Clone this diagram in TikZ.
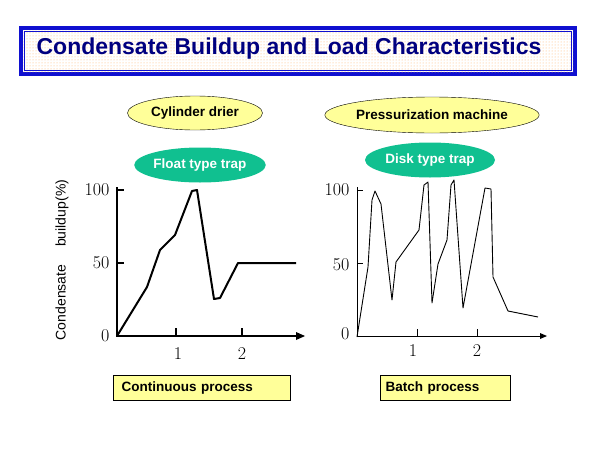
\documentclass[tikz,border=0pt]{standalone}
\usepackage{fontspec}
\setsansfont{Liberation Sans}
\usetikzlibrary{patterns,arrows.meta,shapes.geometric}
\definecolor{navy}{HTML}{000080}
\definecolor{tblue}{HTML}{1010D0}
\definecolor{yel}{HTML}{FFFF99}
\definecolor{teal2}{HTML}{10C090}
\tikzset{
  lblfont/.style={font=\sffamily\bfseries\fontsize{13.5}{15}\selectfont},
  yell/.style={ellipse,draw=black,fill=yel,lblfont,inner sep=0pt},
  tealell/.style={ellipse,fill=teal2,text=white,lblfont,inner sep=0pt},
  procbox/.style={draw=black,fill=yel,lblfont,anchor=north west,inner sep=0pt},
  axisline/.style={line width=1.8pt},
  numlab/.style={font=\fontsize{18}{20}\selectfont},
}
\begin{document}
\begin{tikzpicture}[x=1pt,y=-1pt]
\useasboundingbox (0,0) rectangle (600,450);
% title
\fill[tblue] (19,26) rectangle (577,76);
\fill[white] (23,30) rectangle (573,72);
\fill[pattern=dots,pattern color=orange!60] (23,30) rectangle (573,72);
\draw[tblue,line width=0.8pt] (24.5,31.5) rectangle (571.5,70.5);
\node[font=\sffamily\bfseries\fontsize{23}{26}\selectfont,text=navy] (title) at (289,49) {Condensate Buildup and Load Characteristics};
% ellipses
\node[yell,minimum width=135,minimum height=34] (cyl) at (195,113) {Cylinder drier};
\node[tealell,minimum width=130,minimum height=35] (flt) at (200,165) {Float type trap};
\node[yell,minimum width=182,minimum height=36] (pm) at (432,115) {Pressurization machine};
\node[tealell,minimum width=130,minimum height=35] (dsk) at (430,160) {Disk type trap};
% left chart
\coordinate (lo) at (117,336);
\coordinate (ly) at (117,187);
\coordinate (lx) at (296,336);
\draw[axisline] (ly) -- (lo) -- (lx);
\fill (lx) ++(0,-4) -- ++(9,4) -- ++(-9,4) -- cycle;
\draw[axisline] (117,190) -- (124,190);
\draw[axisline] (117,263) -- (124,263);
\draw[axisline] (176,336) -- (176,328);
\draw[axisline] (242,336) -- (242,328);
\node[numlab,anchor=east] (l100) at (113,190) {100};
\node[numlab,anchor=east] (l50) at (113,263) {50};
\node[numlab,anchor=east] (l0) at (113,336) {0};
\node[numlab] (l1) at (178,354) {1};
\node[numlab] (l2) at (242,354) {2};
\node[rotate=90,font=\sffamily\fontsize{14}{16}\selectfont] (ylab) at (62,260) {Condensate\quad\ buildup(\%)};
\draw[line width=2pt,line join=round] (117,336) -- (147,287) -- (160,250) -- (175,235) -- (192,191) -- (197,190) -- (214,299) -- (220,298) -- (238,263) -- (296,263);
% right chart
\coordinate (ro) at (357,336);
\coordinate (ry) at (357,187);
\coordinate (rx) at (540,336);
\draw[line width=0.8pt] (ry) -- (ro) -- (rx);
\fill (rx) ++(0,-3) -- ++(7,3) -- ++(-7,3) -- cycle;
\draw[line width=0.8pt] (357,190) -- (363,190);
\draw[line width=0.8pt] (357,263) -- (363,263);
\draw[line width=0.8pt] (417,336) -- (417,329);
\draw[line width=0.8pt] (477,336) -- (477,329);
\node[numlab,anchor=east] (r100) at (353,190) {100};
\node[numlab,anchor=east] (r50) at (353,265) {50};
\node[numlab,anchor=east] (r0) at (353,334) {0};
\node[numlab] (r1) at (413,351) {1};
\node[numlab] (r2) at (477,351) {2};
\draw[line width=0.9pt,line join=round] (357,337) -- (368,267) -- (372,200) -- (375,191) -- (381,204) -- (392,300) -- (396,262) -- (419,230) -- (424,185) -- (428,182) -- (432,303) -- (438,264) -- (447,240) -- (451,185) -- (454,180) -- (463,308) -- (485,188) -- (491,189) -- (493,277) -- (508,311) -- (538,317);
% boxes
\node[procbox,minimum width=177,minimum height=25,text width=172,align=left] (cont) at (113,375) {\hspace*{6pt}Continuous process};
\node[procbox,minimum width=130,minimum height=25,text width=127,align=left] (batch) at (380,375) {\hspace*{4pt}Batch process};
\end{tikzpicture}
\end{document}
